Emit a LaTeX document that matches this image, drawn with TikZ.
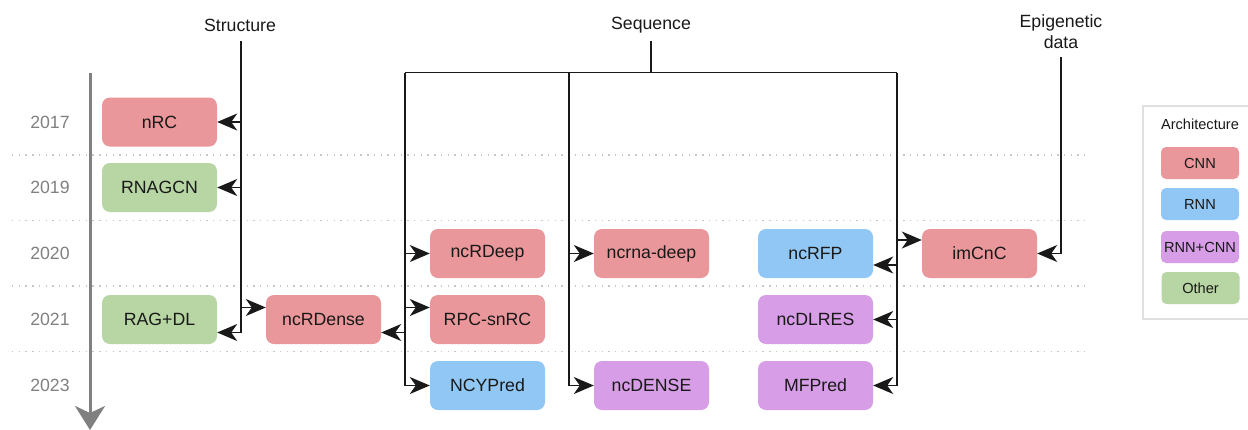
\documentclass[tikz,border=0pt]{standalone}
\usepackage{fontspec}
\setmainfont{Liberation Sans}
\usetikzlibrary{arrows.meta,calc}
\definecolor{cnn}{HTML}{E9979A}
\definecolor{rnn}{HTML}{90C7F4}
\definecolor{mix}{HTML}{D79DE7}
\definecolor{oth}{HTML}{B7D6A3}
\begin{document}
\begin{tikzpicture}[x=1pt,y=-1pt,
  box/.style={rounded corners=8pt, minimum width=115pt, minimum height=49pt, inner sep=0pt, font=\fontsize{17.7}{20}\selectfont, text=black!90},
  lg/.style={rounded corners=5pt, minimum width=78pt, minimum height=32pt, inner sep=0pt, font=\fontsize{14.6}{17}\selectfont, text=black!90},
  tip/.tip={Stealth[length=20pt 0 0,width=17pt 0 0,inset=6pt 0 0]},
  arr/.style={line width=1.7pt, draw=black!90, arrows={-tip}},
  ln/.style={line width=1.7pt, draw=black!90},
  yr/.style={text=black!50, font=\fontsize{17.7}{20}\selectfont},
  hdr/.style={font=\fontsize{17.7}{21}\selectfont, align=center, text=black!90},
  sep/.style={draw=black!22, line width=1.4pt, dash pattern=on 1.4pt off 5.3pt},
]
\useasboundingbox (0,0) rectangle (1248,429);
\clip (0,0) rectangle (1248,429);

% separators
\foreach \yy in {155,220.7,286,351.7} \draw[sep] (12,\yy) -- (1089,\yy);

% timeline axis
\coordinate (ax0) at (90,73);
\coordinate (ax1) at (90,430);
\draw[draw=black!50, line width=3pt, arrows={-Stealth[length=24pt 0 0,width=30pt 0 0,inset=7pt 0 0]}] (ax0) -- (ax1);

% years
\node[yr] (y17) at (50,122) {2017};
\node[yr] (y19) at (50,187.5) {2019};
\node[yr] (y20) at (50,253.5) {2020};
\node[yr] (y21) at (50,319) {2021};
\node[yr] (y23) at (50,385) {2023};

% boxes
\node[box, fill=cnn] (nRC) at (159.5,122) {nRC};
\node[box, fill=oth] (RNAGCN) at (159.5,187.5) {RNAGCN};
\node[box, fill=oth] (RAGDL) at (159.5,319.5) {RAG+DL};
\node[box, fill=cnn] (ncRDense) at (323.5,319.5) {ncRDense};
\node[box, fill=cnn] (ncRDeep) at (487.5,253.5) {ncRDeep};
\node[box, fill=cnn] (RPCsnRC) at (487.5,319.5) {RPC-snRC};
\node[box, fill=rnn] (NCYPred) at (487.5,385.5) {NCYPred};
\node[box, fill=cnn] (ncrnadeep) at (651.5,253.5) {ncrna-deep};
\node[box, fill=mix] (ncDENSE) at (651.5,385.5) {ncDENSE};
\node[box, fill=rnn] (ncRFP) at (815.5,253.5) {ncRFP};
\node[box, fill=mix] (ncDLRES) at (815.5,319.5) {ncDLRES};
\node[box, fill=mix] (MFPred) at (815.5,385.5) {MFPred};
\node[box, fill=cnn] (imCnC) at (979.5,253.5) {imCnC};

% headers
\node[hdr] (structure) at (240,25) {Structure};
\node[hdr] (sequence) at (651,25) {Sequence};
\node[hdr] (epi) at (1061,31.2) {Epigenetic\\data};

% Structure tree
\coordinate (st0) at (241,41);
\coordinate (st1) at (241,332.5);
\draw[ln] (st0) -- (st1);
\draw[arr] (st0 |- nRC.east) -- (nRC.east);
\draw[arr] (st0 |- RNAGCN.east) -- (RNAGCN.east);
\draw[arr] ([yshift=12pt]ncRDense.west -| st0) -- ([yshift=12pt]ncRDense.west);
\draw[arr] (st1) -- (st1 -| RAGDL.east);

% Sequence tree
\coordinate (sq0) at (651,41);
\coordinate (sqT) at (651,72.5);
\coordinate (sl) at (405,72.5);
\coordinate (sm) at (569,72.5);
\coordinate (sr) at (897,72.5);
\draw[ln] (sq0) -- (sqT);
\draw[ln] (sl) -- (sr);
\draw[ln] (sl) -- (sl |- NCYPred.west);
\draw[ln] (sm) -- (sm |- ncDENSE.west);
\draw[ln] (sr) -- (sr |- MFPred.east);
\draw[arr] (sl |- ncRDeep.west) -- (ncRDeep.west);
\draw[arr] ([yshift=12pt]RPCsnRC.west -| sl) -- ([yshift=12pt]RPCsnRC.west);
\draw[arr] ([yshift=-13pt]ncRDense.east -| sl) -- ([yshift=-13pt]ncRDense.east);
\draw[arr] (sl |- NCYPred.west) -- (NCYPred.west);
\draw[arr] (sm |- ncrnadeep.west) -- (ncrnadeep.west);
\draw[arr] (sm |- ncDENSE.west) -- (ncDENSE.west);
\draw[arr] ([yshift=13.5pt]imCnC.west -| sr) -- ([yshift=13.5pt]imCnC.west);
\draw[arr] ([yshift=-11.5pt]ncRFP.east -| sr) -- ([yshift=-11.5pt]ncRFP.east);
\draw[arr] (sr |- ncDLRES.east) -- (ncDLRES.east);
\draw[arr] (sr |- MFPred.east) -- (MFPred.east);

% Epigenetic
\coordinate (ep0) at (1061,57);
\draw[arr] (ep0) |- (imCnC.east);

% legend
\draw[draw=black!12, line width=1.2pt] (1143,106) rectangle (1262,319);
\node[font=\fontsize{14.6}{17}\selectfont, text=black!90] (archt) at (1200,124.5) {Architecture};
\node[lg, fill=cnn] (lcnn) at (1200,163) {CNN};
\node[lg, fill=rnn] (lrnn) at (1200,204) {RNN};
\node[lg, fill=mix] (lmix) at (1200,247) {RNN+CNN};
\node[lg, fill=oth] (loth) at (1200.5,288) {Other};
\end{tikzpicture}
\end{document}
